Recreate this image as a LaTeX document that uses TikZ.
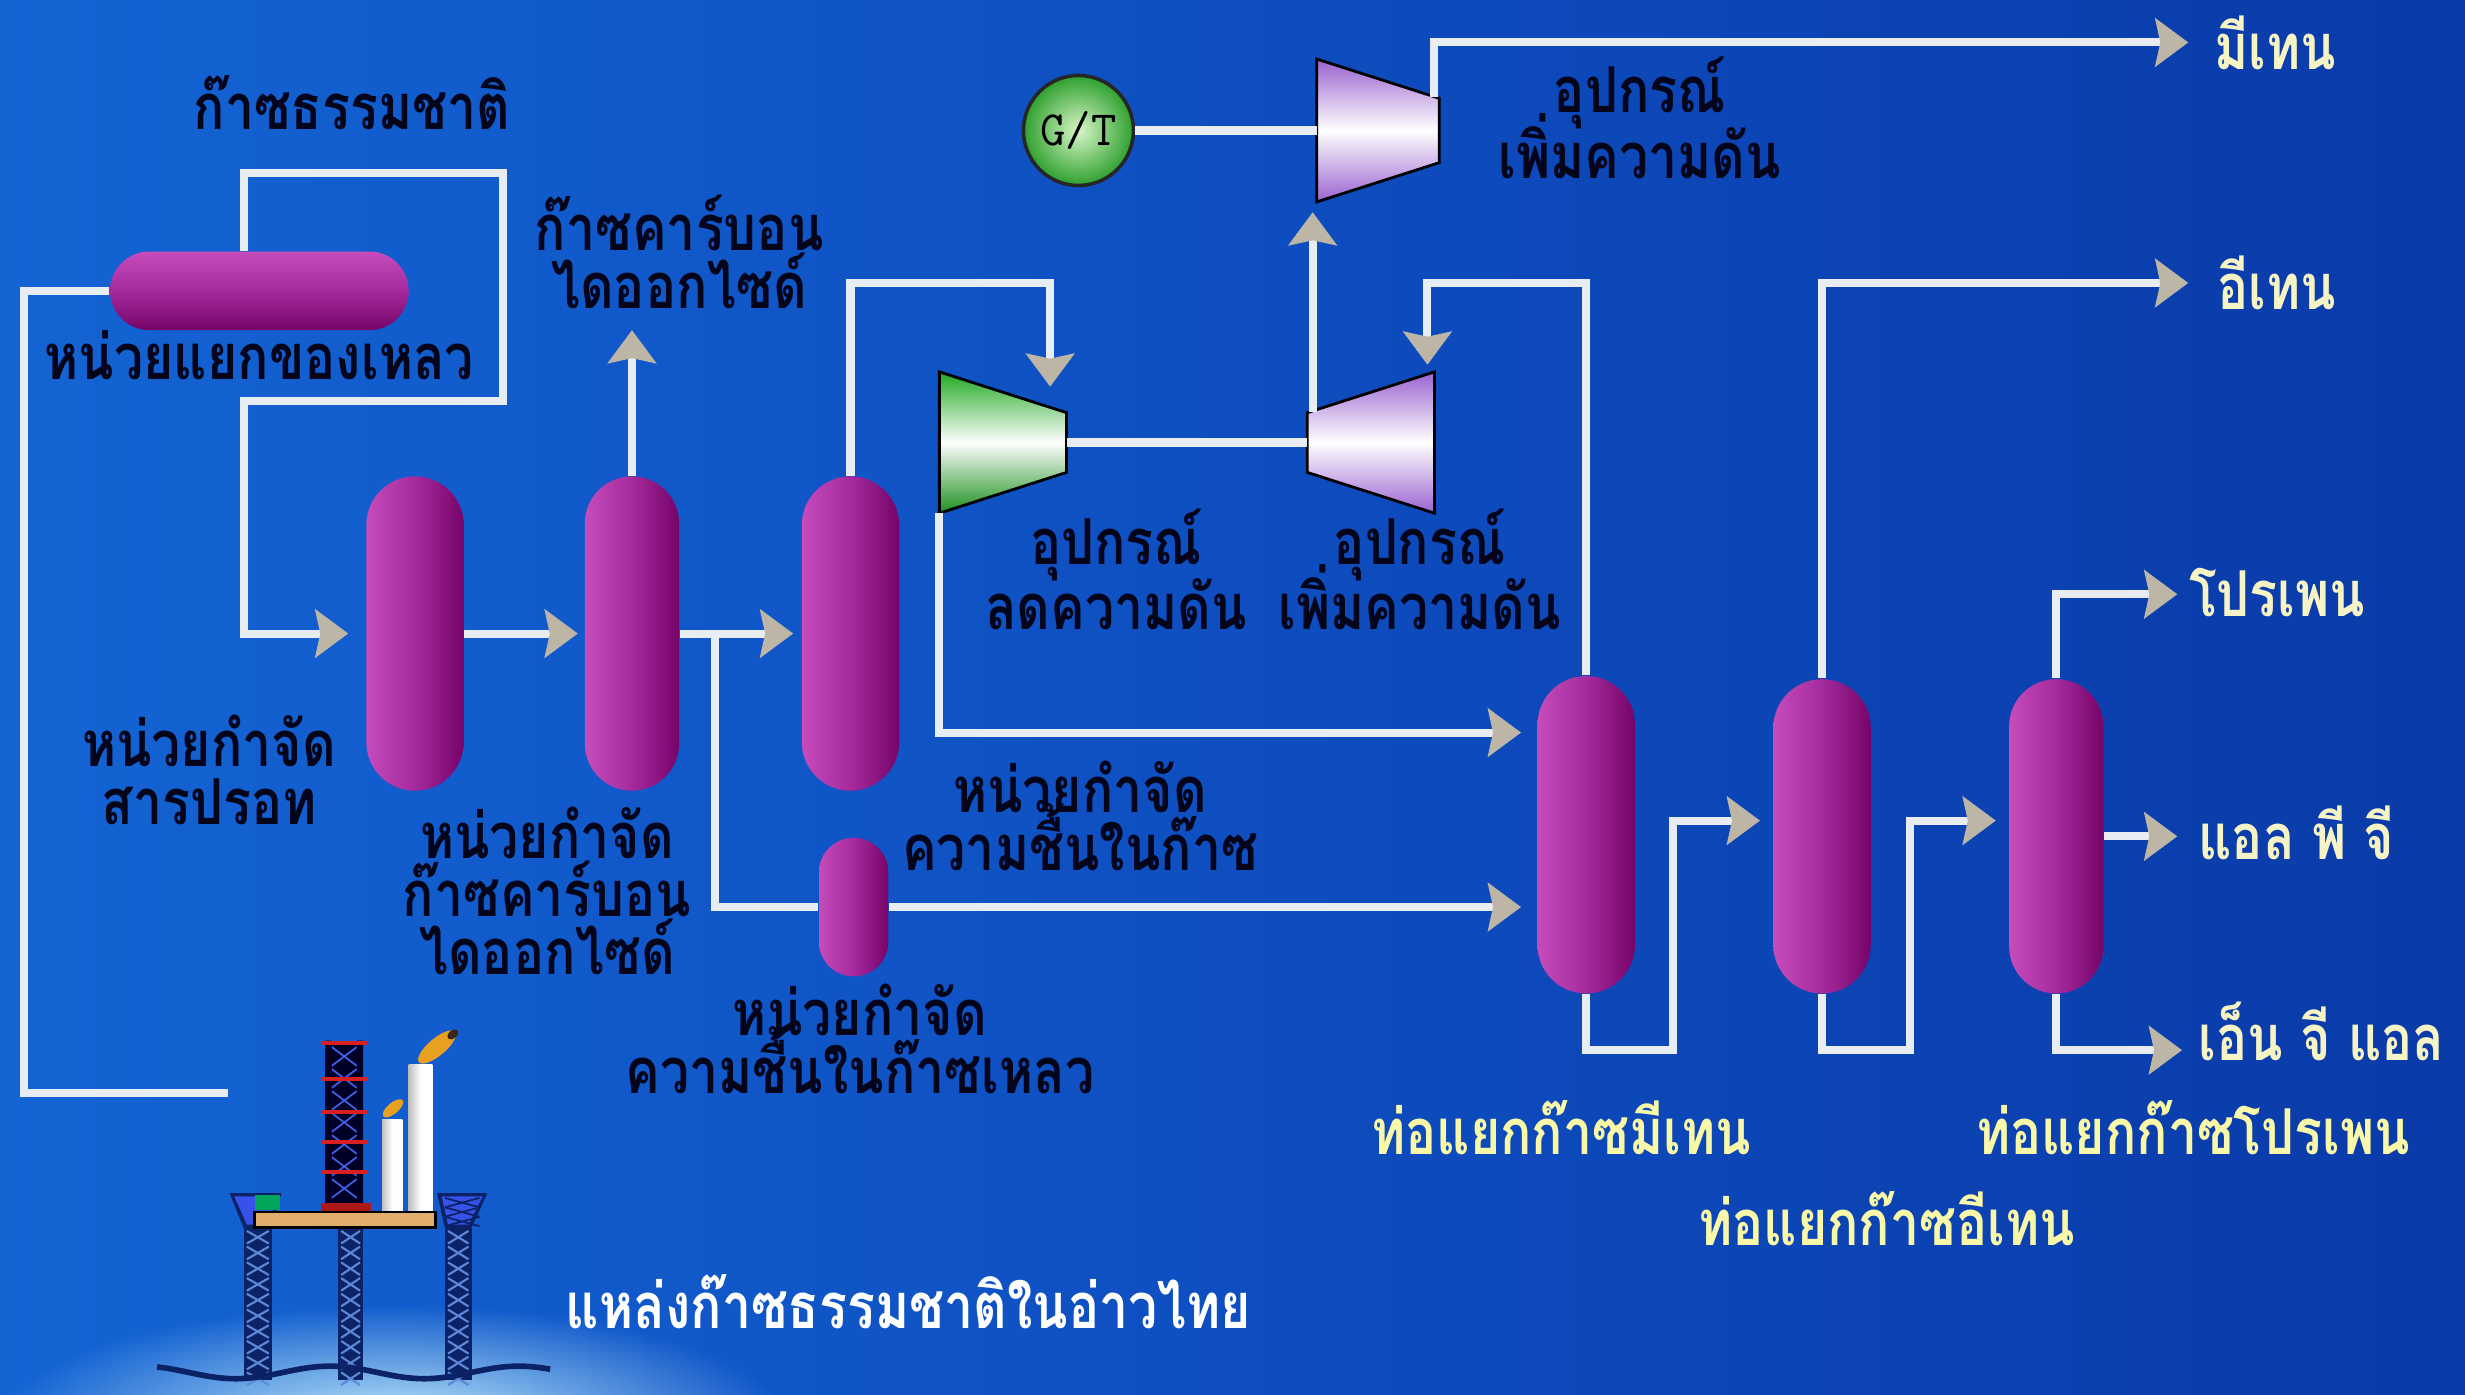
\documentclass[tikz,border=0pt]{standalone}
\usepackage{fontspec}
\usetikzlibrary{arrows.meta,calc,fadings}
\newfontfamily\thaifont[Script=Thai, FakeStretch=0.82]{Loma}
\newlength{\pxu}\setlength{\pxu}{0.015721cm}
\newcommand{\lblfont}{\thaifont\bfseries\fontsize{18}{16.5}\selectfont\lineskiplimit-50pt\relax}
\newcommand{\machfont}{\thaifont\bfseries\fontsize{18}{18.5}\selectfont\lineskiplimit-50pt\relax}

\definecolor{bgL}{HTML}{1464D4}
\definecolor{bgM}{HTML}{0E4EC0}
\definecolor{bgR}{HTML}{0A3AA8}
\definecolor{pipecol}{HTML}{E8EDF4}
\definecolor{tipcol}{HTML}{BDB6A6}
\definecolor{capL}{HTML}{C64CBC}
\definecolor{capM}{HTML}{A42A9E}
\definecolor{capR}{HTML}{760468}
\definecolor{lblblack}{HTML}{04041A}
\definecolor{prodcol}{HTML}{F6F4C4}
\definecolor{towercol}{HTML}{F8F8A8}
\definecolor{expgreen}{HTML}{20A820}
\definecolor{cmppurple}{HTML}{9A62D0}
\definecolor{gtin}{HTML}{D8F6C8}
\definecolor{gtout}{HTML}{2EA02E}
\definecolor{navy}{HTML}{0C2266}
\definecolor{lattice}{HTML}{5C88D8}
\definecolor{decktan}{HTML}{E2AE6C}
\definecolor{flame}{HTML}{E8A020}
\definecolor{redbar}{HTML}{D82020}

\tikzfading[name=glowfade, inner color=transparent!0, outer color=transparent!100]

\begin{document}
\begin{tikzpicture}[x=0.015721cm, y=-0.015721cm,
  pipe/.style={draw=pipecol, line width=2.3pt, line join=miter},
  flow/.style={pipe, -{Stealth[length=0.33cm, width=0.48cm, inset=0.05cm, color=tipcol]}},
  lbl/.style={font=\lblfont, text=lblblack, align=center, inner sep=0pt},
  machlbl/.style={lbl, font=\machfont},
  prod/.style={lbl, text=prodcol, anchor=west},
  towerlbl/.style={lbl, text=towercol},
  vessel/.style n args={3}{rectangle, inner sep=0pt, minimum width=#1\pxu, minimum height=#2\pxu,
    rounded corners=#3\pxu, left color=capL, right color=capR, middle color=capM},
  hvessel/.style n args={3}{rectangle, inner sep=0pt, minimum width=#1\pxu, minimum height=#2\pxu,
    rounded corners=#3\pxu, top color=capL, bottom color=capR, middle color=capM},
  machine/.style={rectangle, inner sep=0pt, draw=none},
]
\useasboundingbox (0,0) rectangle (1568,887);

% sky-blue backdrop
\shade[left color=bgL, right color=bgR, middle color=bgM] (0,0) rectangle (1568,887);
\fill[white!75!cyan, path fading=glowfade] (250,905) ellipse (250 and 75);

% ---------------- vessels ----------------
\node[hvessel={190}{50}{25}] (sep) at (165,185) {};
\node[vessel={62}{200}{31}] (hg)  at (264,403) {};
\node[vessel={60}{200}{30}] (co2) at (402,403) {};
\node[vessel={62}{200}{31}] (dry) at (541,403) {};
\node[vessel={44}{88}{22}]  (liq) at (543,577) {};
\node[vessel={62}{202}{31}] (meth) at (1009,531) {};
\node[vessel={62}{200}{31}] (eth)  at (1159,532) {};
\node[vessel={60}{200}{30}] (prop) at (1308,532) {};

% ---------------- machines ----------------
\node[machine, minimum width=80\pxu, minimum height=89\pxu] (exp)  at (638,281.5) {};
\node[machine, minimum width=80\pxu, minimum height=89\pxu] (cmpB) at (872,281.5) {};
\node[machine, minimum width=77\pxu, minimum height=90\pxu] (cmpA) at (876.5,83) {};

% expander: wide inlet on the left
\path[draw=black, line width=0.8pt, top color=expgreen, bottom color=expgreen!85!black, middle color=white]
  (exp.north west) -- ([yshift=19\pxu]exp.east) -- ([yshift=-19\pxu]exp.east) -- (exp.south west) -- cycle;
% booster compressor: wide outlet on the right
\path[draw=black, line width=0.8pt, top color=cmppurple, bottom color=cmppurple, middle color=white]
  ([yshift=19\pxu]cmpB.west) -- (cmpB.north east) -- (cmpB.south east) -- ([yshift=-19\pxu]cmpB.west) -- cycle;
% sales-gas compressor
\path[draw=black, line width=0.8pt, top color=cmppurple, bottom color=cmppurple, middle color=white]
  (cmpA.north west) -- ([yshift=20.5\pxu]cmpA.east) -- ([yshift=-20.5\pxu]cmpA.east) -- (cmpA.south west) -- cycle;

\node[circle, minimum size=70\pxu, inner sep=0pt, draw=black!85, line width=1pt,
      inner color=gtin, outer color=gtout, font=\ttfamily\fontsize{14}{14}\selectfont] (gt) at (686,83) {G/T};

% ---------------- ports and free ends ----------------
\coordinate (wellhead) at (145,695);
\coordinate (tee) at (455,403);
\coordinate (co2out) at (402,210);
\coordinate (expin) at (668,246);
\coordinate (cBup) at (835,262);
\coordinate (cAin) at (835,135);
\coordinate (cBin) at (908,232);
\coordinate (cAout) at (912,62);
\coordinate (methout) at (1392,27);
\coordinate (ethout) at (1392,180);
\coordinate (propout) at (1385,378);
\coordinate (lpgout) at (1385,532);
\coordinate (nglout) at (1388,668);

% ---------------- pipework ----------------
\draw[pipe] (wellhead) -- (15,695) |- (sep.west);
\draw[flow, shorten >=11\pxu] ([xshift=-10\pxu]sep.north) |- (320,110) |- (155,255) |- (hg.west);
\draw[flow, shorten >=4\pxu] (hg.east) -- (co2.west);
\draw[flow] (co2.north) -- (co2out);
\draw[flow, shorten >=5\pxu] (co2.east) -- (dry.west);
\draw[pipe] (tee) |- (liq.west);
\draw[flow, shorten >=10\pxu] (liq.east) -- (liq.east -| meth.west);
\draw[flow] (dry.north) |- (600,180) -| (expin);
\draw[pipe] (exp.east) -- (cmpB.west);
\draw[flow, shorten >=10\pxu] (exp.south west) |- ([yshift=65\pxu]meth.west);
\draw[flow] (cBup) -- (cAin);
\draw[flow] (meth.north) |- (950,180) -| (cBin);
\draw[pipe] (gt.east) -- (cmpA.west);
\draw[flow] (cAout) |- (methout);
\draw[flow, shorten >=8\pxu] (meth.south) |- (1064,668) |- ([yshift=10\pxu]eth.west);
\draw[flow] (eth.north) |- (ethout);
\draw[flow, shorten >=8\pxu] (eth.south) |- (1215,668) |- ([yshift=10\pxu]prop.west);
\draw[flow] (prop.north) |- (propout);
\draw[flow] (prop.east) -- (lpgout);
\draw[flow] (prop.south) |- (nglout);

% small vessel sits on the liquid line
\node[vessel={44}{88}{22}] at (liq) {};

% ---------------- offshore platform ----------------
\foreach \xa/\xb in {155/173, 215/231, 283/300}{
  \fill[navy] (\xa,781) rectangle (\xb,878);
  \foreach \yy in {783,793,...,873}{
    \draw[lattice, line width=0.6pt] (\xa+2,\yy) -- (\xb-2,\yy+8) (\xb-2,\yy) -- (\xa+2,\yy+8);
  }
}
\fill[navy] (146,759) -- (179,759) -- (173,781) -- (155,781) -- cycle;
\fill[navy] (278,759) -- (310,759) -- (300,781) -- (283,781) -- cycle;
\fill[lattice!60!blue] (149,761) -- (176,761) -- (171,779) -- (157,779) -- cycle;
\fill[lattice!60!blue] (281,761) -- (307,761) -- (298,779) -- (285,779) -- cycle;
\foreach \yy in {762,768,774}{\draw[navy, line width=0.5pt] (283,\yy) -- (305,\yy+6) (305,\yy) -- (283,\yy+6);}
\fill[teal!70!green] (162,760) rectangle (178,770);
% derrick
\fill[black!85!blue] (207,662) rectangle (231,766);
\foreach \yy in {666,680,...,758}{
  \draw[lattice!70!blue, line width=0.5pt] (211,\yy) -- (227,\yy+12) (227,\yy) -- (211,\yy+12);
}
\fill[black!85!blue] (207,662) rectangle (211,766) (227,662) rectangle (231,766);
\foreach \yy in {662,685,706,725,744}{\fill[redbar] (204,\yy) rectangle (234,\yy+2.5);}
\fill[redbar!80!black] (204,765) rectangle (236,771);
% flare stacks
\shade[left color=black!25, right color=white, middle color=white] (243,712) rectangle (256,771);
\shade[left color=black!25, right color=white, middle color=white] (260,677) rectangle (275,771);
\fill[flame, rotate around={40:(250,705)}] (250,705) ellipse (8 and 3.5);
\fill[flame, rotate around={40:(278,666)}] (278,666) ellipse (15 and 5.5);
\fill[black!70!brown, rotate around={40:(288,658)}] (288,658) ellipse (4 and 2.5);
% deck
\draw[black, line width=0.8pt, fill=decktan] (162,771) rectangle (277,781);
% sea surface
\draw[navy, line width=1.6pt] plot[domain=100:350, samples=60, smooth] (\x, {873+4*sin(3*\x)});

% ---------------- labels ----------------
\node[lbl] (lngas) at (224,65) {ก๊าซธรรมชาติ};
\node[lbl] (lsep) at (165,226) {หน่วยแยกของเหลว};
\node[lbl] (lco2out) at (432,160) {ก๊าซคาร์บอน\\ไดออกไซด์};
\node[lbl] (lhg) at (133,490) {หน่วยกำจัด\\สารปรอท};
\node[lbl] (lco2) at (348,567) {หน่วยกำจัด\\ก๊าซคาร์บอน\\ไดออกไซด์};
\node[lbl] (ldry) at (687,519) {หน่วยกำจัด\\ความชื้นในก๊าซ};
\node[lbl] (lliq) at (547,661) {หน่วยกำจัด\\ความชื้นในก๊าซเหลว};
\node[machlbl] (lexp) at (710,362) {อุปกรณ์\\ลดความดัน};
\node[machlbl] (lcmpB) at (903,362) {อุปกรณ์\\เพิ่มความดัน};
\node[machlbl] (lcmpA) at (1043,75) {อุปกรณ์\\เพิ่มความดัน};

\node[prod] (lmeth) at (1408,27) {มีเทน};
\node[prod] (leth) at (1410,180) {อีเทน};
\node[prod] (lprop) at (1392,377) {โปรเพน};
\node[prod] (llpg) at (1398,530) {แอล พี จี};
\node[prod] (lngl) at (1398,656) {เอ็น จี แอล};

\node[towerlbl] (lmt) at (993,717) {ท่อแยกก๊าซมีเทน};
\node[towerlbl] (let) at (1200,775) {ท่อแยกก๊าซอีเทน};
\node[towerlbl] (lpt) at (1395,717) {ท่อแยกก๊าซโปรเพน};

\node[lbl, text=white] (lsrc) at (578,828) {แหล่งก๊าซธรรมชาติในอ่าวไทย};
\end{tikzpicture}
\end{document}
